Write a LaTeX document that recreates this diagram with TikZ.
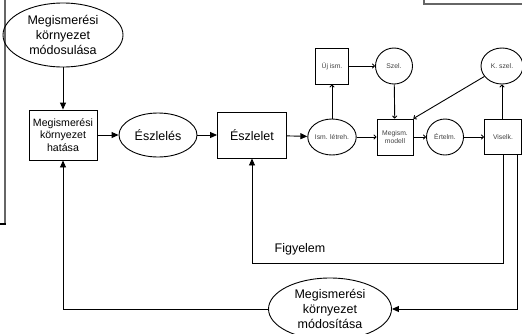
\documentclass[tikz,border=0pt]{standalone}
\usepackage{fontspec}
\setmainfont{Liberation Sans}
\usetikzlibrary{shapes.geometric,arrows.meta}
\begin{document}
\begin{tikzpicture}[x=1pt,y=-1pt,
  line width=0.9pt,
  bigtxt/.style={font=\fontsize{12.5}{14.8}\selectfont,align=center,inner sep=0pt},
  boxtxt/.style={font=\fontsize{10.6}{12.4}\selectfont,align=center,inner sep=0pt},
  smalltxt/.style={font=\fontsize{6.8}{7.8}\selectfont,align=center,inner sep=0pt,text=black!75},
  ell/.style={draw,ellipse,inner sep=0pt},
  bx/.style={draw,rectangle,inner sep=0pt},
  big/.style={-{Triangle[length=7pt,width=6pt]}},
  sm/.style={-{To[length=3pt,width=5pt]}}]
\useasboundingbox (0,0) rectangle (522,333);
% partial frame lines at edges
\draw[black!60,line width=1.4pt] (5,0) -- (5,224);
\draw[line width=2pt] (0,224) -- (6,224);
\draw[black!60,line width=1.2pt] (424,0) -- (424,4) -- (522,4);
% nodes
\node[ell,bigtxt,minimum width=120pt,minimum height=64pt] (top) at (63,35) {Megismerési\\környezet\\módosulása};
\node[bx,boxtxt,minimum width=68pt,minimum height=50pt] (hat) at (63,135) {Megismerési\\környezet\\hatása};
\node[ell,bigtxt,minimum width=78pt,minimum height=44pt] (esz) at (158,135) {Észlelés};
\node[bx,bigtxt,minimum width=69pt,minimum height=46pt] (eszl) at (252,135) {Észlelet};
\node[ell,smalltxt,minimum width=42pt,minimum height=36pt] (ism) at (332,137) {Ism. létreh.};
\node[bx,smalltxt,minimum width=33pt,minimum height=36pt] (uj) at (332,66) {Új ism.};
\node[ell,smalltxt,minimum width=37pt,minimum height=36pt] (szel) at (394,66) {Szel.};
\node[bx,smalltxt,minimum width=36pt,minimum height=36pt] (mod) at (395,137) {Megism.\\modell};
\node[ell,smalltxt,minimum width=37pt,minimum height=36pt] (ert) at (445,137) {Értelm.};
\node[bx,smalltxt,minimum width=37pt,minimum height=35pt] (vis) at (503,137) {Viselk.};
\node[ell,smalltxt,minimum width=42pt,minimum height=36pt] (ksz) at (502,66) {K. szel.};
\node[ell,bigtxt,minimum width=123pt,minimum height=62pt] (bot) at (330,309) {Megismerési\\környezet\\módosítása};
\node[bigtxt] (fig) at (300,249) {Figyelem};
\coordinate (c1) at (503,263);
\coordinate (c2) at (517,309);
% connectors
\draw[big] (top) -- (hat);
\draw[big] (hat) -- (esz);
\draw[big] (esz) -- (eszl);
\draw[big] (eszl) -- (ism);
\draw[sm] (ism) -- (uj);
\draw[sm] (uj) -- (szel);
\draw[sm] (szel) -- (mod);
\draw[sm] (ism) -- (mod);
\draw[sm] (mod) -- (ert);
\draw[sm] (ert) -- (vis);
\draw[sm] (vis.north -| ksz) -- (ksz);
\draw[sm] (ksz) -- (mod.north east);
\draw[big] (vis.south) |- (c1) -| (eszl.south);
\draw[big] (c2 |- vis.south) -- (c2) -- (bot.east |- c2);
\draw[big] (bot.west) -| (hat.south);
\end{tikzpicture}
\end{document}
